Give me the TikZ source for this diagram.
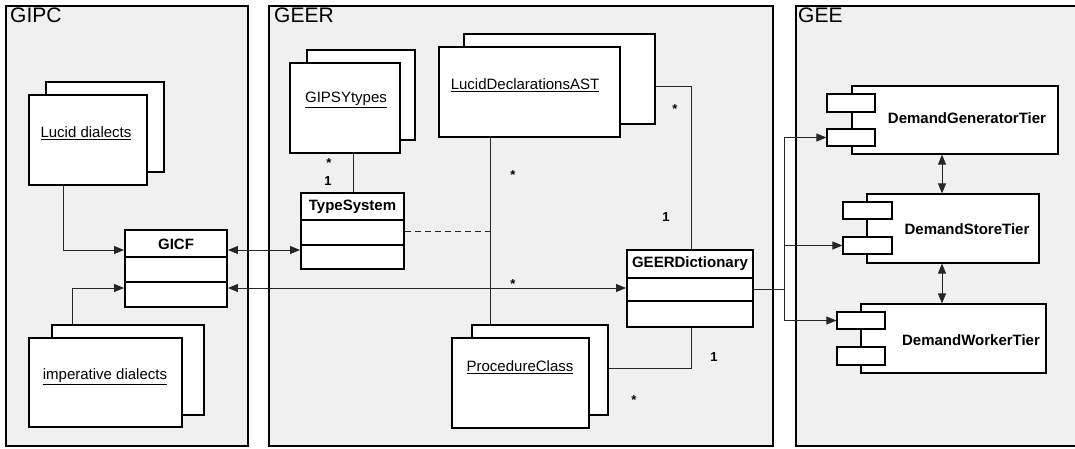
\documentclass[tikz,border=0pt]{standalone}
\usepackage{fontspec}
\setmainfont{Liberation Sans}
\usetikzlibrary{calc,fit,arrows.meta}

\begin{document}
\begin{tikzpicture}[x=1pt,y=-1pt,
  panel/.style={draw, line width=1.9pt, fill=black!6, inner sep=0pt},
  paneltitle/.style={anchor=north west, inner sep=0pt, font=\fontsize{21}{21}\selectfont},
  obj/.style={draw, line width=1.9pt, fill=white, inner sep=0pt},
  cls/.style={draw, line width=1.9pt, fill=white, inner sep=0pt},
  clsline/.style={line width=1.6pt},
  comp/.style={draw, line width=1.2pt, fill=white, inner sep=0pt},
  objname/.style={inner sep=0pt, font=\fontsize{15}{15}\selectfont},
  clsname/.style={inner sep=0pt, font=\bfseries\fontsize{15}{15}\selectfont},
  mult/.style={inner sep=0pt, font=\bfseries\fontsize{13}{13}\selectfont},
  link/.style={line width=0.8pt, draw=black!85},
  tip/.style={-{Triangle[length=10pt,width=8pt]}},
  tips/.style={{Triangle[length=10pt,width=8pt]}-{Triangle[length=10pt,width=8pt]}},
]
\clip (0,0) rectangle (1075,449);
\fill[white] (0,0) rectangle (1075,449);

% ---------- subsystem panels ----------
\node[panel, fit={(6,6) (248,446)}] (gipc) {};
\node[panel, fit={(269,6) (773,446)}] (geer) {};
\node[panel, fit={(796,6) (1090,446)}] (gee) {};
\node[paneltitle] (gipcT) at (10,8) {GIPC};
\node[paneltitle] (geerT) at (274,8) {GEER};
\node[paneltitle] (geeT) at (798,8) {GEE};

% ---------- multi-object boxes ----------
\node[obj, fit={(46,82) (164,172)}] (lucidB) {};
\node[obj, fit={(29,95) (147,185)}] (lucidF) {};
\node[objname] (lucidN) at (86,133) {\underline{Lucid dialects}};

\node[obj, fit={(52,325) (204,415)}] (impB) {};
\node[obj, fit={(29,338) (182,427)}] (impF) {};
\node[objname] (impN) at (105,377) {\underline{imperative dialects}};

\node[obj, fit={(307,50) (415,140)}] (gipsyB) {};
\node[obj, fit={(290,63) (400,153)}] (gipsyF) {};
\node[objname] (gipsyN) at (346,100) {\underline{GIPSYtypes}};

\node[obj, fit={(464,34) (655,124)}] (ldastB) {};
\node[obj, fit={(439,47) (620,137)}] (ldastF) {};
\node[objname] (ldastN) at (525,85) {\underline{LucidDeclarationsAST}};

\node[obj, fit={(472,325) (608,415)}] (procB) {};
\node[obj, fit={(452,338) (589,428)}] (procF) {};
\node[objname] (procN) at (520,367) {\underline{ProcedureClass}};

% ---------- classes ----------
\node[cls, fit={(125,230) (227,307)}] (gicf) {};
\draw[clsline] ($(gicf.north west)+(0,28)$) -- ($(gicf.north east)+(0,28)$);
\draw[clsline] ($(gicf.north west)+(0,53)$) -- ($(gicf.north east)+(0,53)$);
\node[clsname] (gicfN) at (176,244) {GICF};

\node[cls, fit={(301,193) (404,269)}] (ts) {};
\draw[clsline] ($(ts.north west)+(0,28)$) -- ($(ts.north east)+(0,28)$);
\draw[clsline] ($(ts.north west)+(0,53)$) -- ($(ts.north east)+(0,53)$);
\node[clsname] (tsN) at (352.5,207) {TypeSystem};

\node[cls, fit={(627,250) (753,327)}] (gd) {};
\draw[clsline] ($(gd.north west)+(0,29)$) -- ($(gd.north east)+(0,29)$);
\draw[clsline] ($(gd.north west)+(0,52)$) -- ($(gd.north east)+(0,52)$);
\node[clsname] (gdN) at (690,264) {GEERDictionary};

% ---------- components ----------
\node[comp, fit={(852,86) (1058,154)}] (dgt) {};
\node[comp, fit={(827,94) (875,112)}] (dgtP1) {};
\node[comp, fit={(827,129) (875,146)}] (dgtP2) {};
\node[clsname] (dgtN) at (967,118) {DemandGeneratorTier};

\node[comp, fit={(867,194) (1039,263)}] (dst) {};
\node[comp, fit={(843,202) (892,219)}] (dstP1) {};
\node[comp, fit={(843,237) (892,254)}] (dstP2) {};
\node[clsname] (dstN) at (967,229) {DemandStoreTier};

\node[comp, fit={(861,304) (1046,373)}] (dwt) {};
\node[comp, fit={(837,312) (885,329)}] (dwtP1) {};
\node[comp, fit={(837,347) (885,365)}] (dwtP2) {};
\node[clsname] (dwtN) at (971,340) {DemandWorkerTier};

% ---------- connectors inside GIPC ----------
\draw[link, tip] (lucidF.south -| 63,0) |- (gicf.west |- 0,250);
\draw[link, tip] (impB.north -| 72,0) |- (gicf.west |- 0,288);

% ---------- GIPC <-> GEER ----------
\draw[link, tips] (gicf.east |- 0,250) -- (ts.west |- 0,250);
\draw[link, tips] (gicf.east |- 0,288) -- (gd.west |- 0,288);

% ---------- associations inside GEER ----------
\draw[link] (gipsyF.south -| 353,0) -- (ts.north -| 353,0);
\node[mult] (m1) at (329,163) {*};
\node[mult] (m2) at (328,181) {1};

\draw[link] (ldastF.south -| 490,0) -- (procB.north -| 490,0);
\coordinate (tsJoin) at (490,231);
\draw[link, dashed, dash pattern=on 6pt off 4pt] (ts.east |- tsJoin) -- (tsJoin);
\node[mult] (m3) at (513,175) {*};
\node[mult] (m4) at (513,284) {*};

\draw[link] (ldastB.east |- 0,86) -| (gd.north -| 691,0);
\node[mult] (m5) at (675,109) {*};
\node[mult] (m6) at (666,217) {1};

\draw[link] (gd.south -| 691,0) |- (procB.east |- 0,368);
\node[mult] (m7) at (714,357) {1};
\node[mult] (m8) at (634,400) {*};

% ---------- GEER -> GEE ----------
\coordinate (bus) at (784,289);
\draw[link] (gd.east |- bus) -- (bus);
\draw[link, tip] (bus) |- (dgtP2.west);
\draw[link, tip] (bus) |- (dstP2.west);
\draw[link, tip] (bus) |- (dwtP1.west);

% ---------- tiers inside GEE ----------
\draw[link, tips] (dgt.south -| 942,0) -- (dst.north -| 942,0);
\draw[link, tips] (dst.south -| 942,0) -- (dwt.north -| 942,0);
\end{tikzpicture}
\end{document}
